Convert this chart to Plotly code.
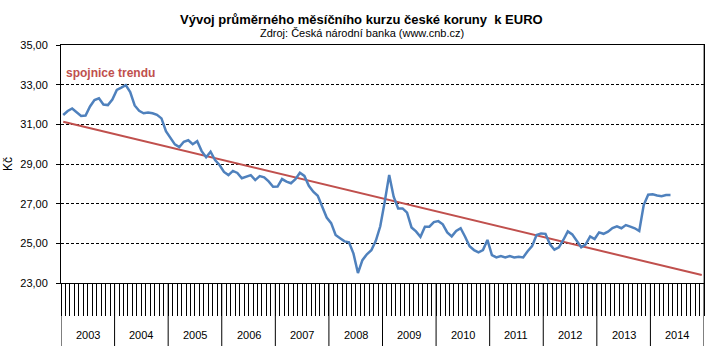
import plotly.graph_objects as go

years = [2003, 2004, 2005, 2006, 2007, 2008, 2009, 2010, 2011, 2012, 2013, 2014]
rate = [
    31.47, 31.67, 31.80, 31.62, 31.42, 31.44, 31.90, 32.22, 32.31, 32.00, 31.97, 32.25,
    32.73, 32.85, 32.98, 32.63, 31.95, 31.68, 31.56, 31.60, 31.56, 31.48, 31.30, 30.66,
    30.35, 29.99, 29.85, 30.12, 30.20, 30.00, 30.15, 29.65, 29.34, 29.62, 29.20, 28.95,
    28.60, 28.44, 28.65, 28.55, 28.28, 28.36, 28.44, 28.19, 28.39, 28.33, 28.12, 27.85,
    27.86, 28.24, 28.11, 28.03, 28.23, 28.56, 28.40, 27.90, 27.60, 27.40, 26.85, 26.30,
    26.02, 25.42, 25.26, 25.10, 25.05, 24.48, 23.50, 24.15, 24.45, 24.65, 25.13, 25.86,
    27.10, 28.45, 27.35, 26.76, 26.76, 26.55, 25.80, 25.60, 25.33, 25.84, 25.84, 26.07,
    26.12, 25.96, 25.55, 25.35, 25.62, 25.76, 25.33, 24.85, 24.66, 24.55, 24.66, 25.17,
    24.41, 24.29, 24.36, 24.29, 24.36, 24.29, 24.32, 24.29, 24.60, 24.86, 25.42, 25.50,
    25.48, 24.95, 24.68, 24.80, 25.17, 25.60, 25.45, 25.10, 24.80, 24.95, 25.35, 25.22,
    25.55, 25.48, 25.59, 25.77, 25.86, 25.76, 25.92, 25.84, 25.76, 25.62, 26.93, 27.45,
    27.47, 27.41, 27.38, 27.44, 27.44,
]
trend_ends = [31.13, 23.40]  # Jan 2003 and Dec 2014

title = "Vývoj průměrného měsíčního kurzu české koruny  k EURO"
subtitle = "Zdroj: Česká národní banka (www.cnb.cz)"
trend_label = "spojnice trendu"
y_title = "Kč"

n_months = len(years) * 12
x_rate = [i + 0.5 for i in range(len(rate))]

fig = go.Figure()
fig.add_trace(go.Scatter(
    x=[0.5, n_months - 0.5], y=trend_ends, mode="lines",
    line=dict(color="#C0504D", width=2), hoverinfo="skip", showlegend=False))
fig.add_trace(go.Scatter(
    x=x_rate, y=rate, mode="lines",
    line=dict(color="#4F81BD", width=2.5), showlegend=False))

plot_l, plot_r, plot_t, plot_b = 61, 704, 45, 283
plot_w = plot_r - plot_l
plot_h = plot_b - plot_t
below = (346 - plot_b) / plot_h

shapes = []
for k in range(len(years) + 1):
    shapes.append(dict(type="line", xref="x", yref="paper",
                       x0=k * 12, x1=k * 12, y0=-below, y1=0,
                       line=dict(color="black", width=1)))
shapes.append(dict(type="line", xref="x", yref="paper", x0=n_months, x1=n_months,
                   y0=0, y1=1, line=dict(color="#404040", width=1)))

annotations = []
for k, yr in enumerate(years):
    annotations.append(dict(x=k * 12 + 6, y=-(335 - plot_b) / plot_h, xref="x", yref="paper",
                            yanchor="middle", text=str(yr), showarrow=False,
                            font=dict(size=11, color="black")))
fig_cx = (361.5 - plot_l) / plot_w
annotations.append(dict(x=fig_cx, xanchor="center", y=1 + (plot_t - 20) / plot_h, yanchor="middle",
                        xref="paper", yref="paper", text="<b>" + title + "</b>", showarrow=False,
                        font=dict(size=13, color="black")))
annotations.append(dict(x=fig_cx, xanchor="center", y=1 + (plot_t - 33) / plot_h, yanchor="middle",
                        xref="paper", yref="paper", text=subtitle, showarrow=False,
                        font=dict(size=11, color="black")))
annotations.append(dict(x=(64 - plot_l) / plot_w, xanchor="left", y=(plot_b - 73) / plot_h,
                        yanchor="middle", xref="paper", yref="paper",
                        text="<b>" + trend_label + "</b>",
                        showarrow=False, font=dict(size=12, color="#C0504D")))
annotations.append(dict(x=-(plot_l - 8) / plot_w, xanchor="center", y=(plot_b - 164) / plot_h,
                        yanchor="middle", xref="paper", yref="paper", text=y_title,
                        textangle=-90, showarrow=False, font=dict(size=12, color="black")))

fig.update_layout(
    width=723, height=361,
    margin=dict(l=plot_l, r=723 - plot_r, t=plot_t, b=361 - plot_b, autoexpand=False),
    paper_bgcolor="white", plot_bgcolor="white",
    font=dict(family="Liberation Sans, Arial", size=11, color="black"),
    separators=", ",
    shapes=shapes, annotations=annotations,
    xaxis=dict(range=[0, n_months], showgrid=False, zeroline=False,
               showline=True, linecolor="black", linewidth=1, mirror=True,
               ticks="outside", tick0=0, dtick=1, ticklen=32, tickcolor="black",
               tickwidth=1, showticklabels=False, fixedrange=True, automargin=False),
    yaxis=dict(range=[23, 35], dtick=2, tick0=23, tickformat=".2f",
               showgrid=True, gridcolor="black", gridwidth=1, griddash="3px,2px",
               zeroline=False, showline=True, linecolor="black", linewidth=1,
               mirror=True, ticks="outside", ticklen=4, tickcolor="black",
               ticklabelstandoff=6, tickfont=dict(size=11), fixedrange=True,
               automargin=False),
)

fig.write_html("out.html", config={"displayModeBar": False},
               post_script="document.body.style.margin='0';document.body.style.padding='0';")
